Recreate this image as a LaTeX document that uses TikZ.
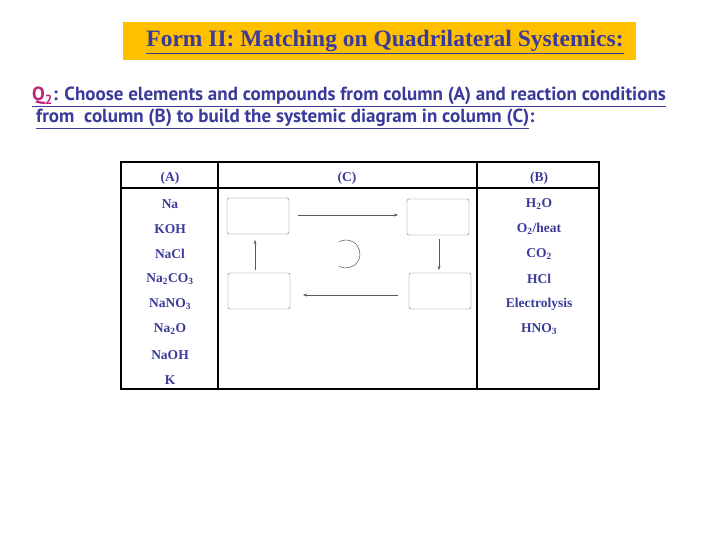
\documentclass[tikz,border=0pt]{standalone}
\usepackage{fontspec}
\setmainfont{Liberation Serif}
\newfontfamily\qfont{PT Sans}
\usetikzlibrary{arrows.meta}
\definecolor{ink}{HTML}{3A3A9A}
\definecolor{gold}{HTML}{FFC000}
\definecolor{qred}{HTML}{C0207A}
\begin{document}
\begin{tikzpicture}[x=1pt,y=-1pt,
  cell/.style={font=\bfseries\fontsize{13.5}{16}\selectfont, text=ink, anchor=center},
  slot/.style={draw=gray!90!black, rounded corners=2pt, minimum width=62pt, minimum height=36pt, inner sep=0},
  conn/.style={draw=gray!70!black, -{Stealth[length=4pt,width=3pt]}, line width=0.5pt}]
\useasboundingbox (0,0) rectangle (720,540);
\fill[gold] (123,22) rectangle (636,60);
\node[font=\bfseries\fontsize{23.5}{26}\selectfont, text=ink] (title) at (385,42) {\underline{Form II: Matching on Quadrilateral Systemics:}};
\node[anchor=west, font=\qfont\bfseries\fontsize{19}{22}\selectfont, text=ink, inner sep=0] (q1) at (32,97) {\underline{\textcolor{qred}{Q\textsubscript{2}}: Choose elements and compounds from column (A) and reaction conditions}};
\node[anchor=west, font=\qfont\bfseries\fontsize{19}{22}\selectfont, text=ink, inner sep=0] (q2) at (36,119) {\underline{from\ \ column (B) to build the systemic diagram in column (C)}:};
\draw[line width=1.2pt] (121,162) rectangle (599,389);
\draw[line width=1.2pt] (218,162) -- (218,389) (477,162) -- (477,389) (121,188) -- (599,188);
\node[cell] (hA) at (170,178) {(A)};
\node[cell] (hC) at (347,178) {(C)};
\node[cell] (hB) at (539,178) {(B)};
\node[cell] (a1) at (170,204) {Na};
\node[cell] (a2) at (170,229) {KOH};
\node[cell] (a3) at (170,254) {NaCl};
\node[cell] (a4) at (170,279) {Na\textsubscript{2}CO\textsubscript{3}};
\node[cell] (a5) at (170,304) {NaNO\textsubscript{3}};
\node[cell] (a6) at (170,329) {Na\textsubscript{2}O};
\node[cell] (a7) at (170,355) {NaOH};
\node[cell] (a8) at (170,380) {K};
\node[cell] (b1) at (539,204) {H\textsubscript{2}O};
\node[cell] (b2) at (539,229) {O\textsubscript{2}/heat};
\node[cell] (b3) at (539,254) {CO\textsubscript{2}};
\node[cell] (b4) at (539,279) {HCl};
\node[cell] (b5) at (539,304) {Electrolysis};
\node[cell] (b6) at (539,329) {HNO\textsubscript{3}};
\node[slot] (s1) at (258,216) {};
\node[slot] (s2) at (438,217) {};
\node[slot] (s3) at (259,291) {};
\node[slot] (s4) at (440,291) {};
\coordinate (t1) at (298,215); \coordinate (t2) at (398,215);
\coordinate (r1) at (439,239); \coordinate (r2) at (439,270);
\coordinate (d1) at (398,295); \coordinate (d2) at (303,295);
\coordinate (l1) at (255,270); \coordinate (l2) at (255,240);
\draw[conn] (t1) -- (t2);
\draw[conn] (r1) -- (r2);
\draw[conn] (d1) -- (d2);
\draw[conn] (l1) -- (l2);
\coordinate (cc) at (346,254);
\draw[gray!70!black, line width=0.5pt] ([shift={(120:14)}]cc) arc[start angle=120, end angle=-120, radius=14];
\end{tikzpicture}
\end{document}
